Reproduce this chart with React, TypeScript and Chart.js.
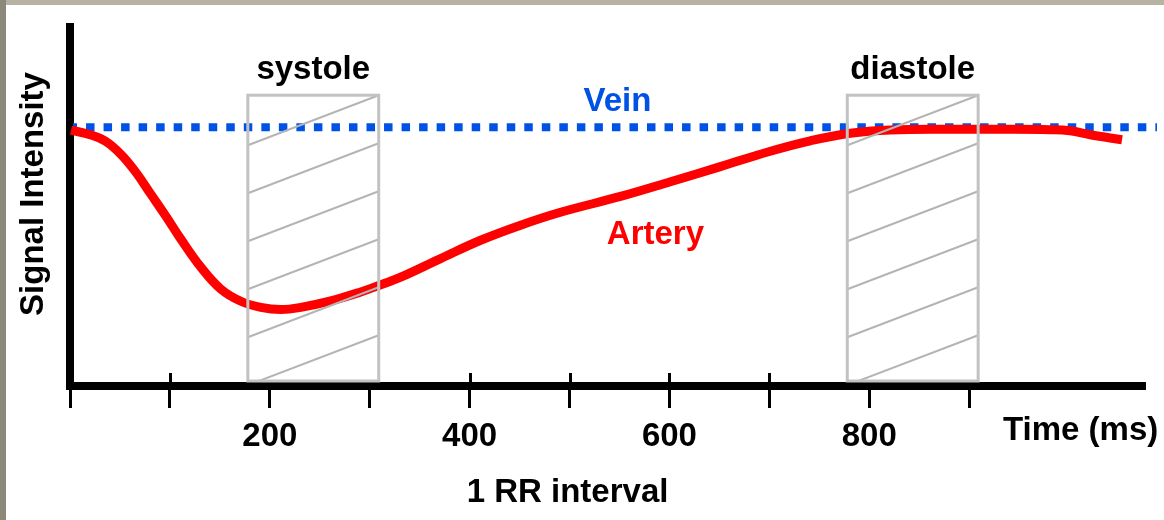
import { useEffect, useRef } from "react";
import { Chart, registerables } from "chart.js";

Chart.register(...registerables);

// ---- data (time in ms, signal intensity in arbitrary units 0-100) ----
const arteryTime = [1, 21, 36, 51, 66, 81, 96, 111, 131, 151, 171, 191, 211, 231, 261, 291, 311, 331, 371, 411, 451, 491, 551, 601, 651, 701, 741, 781, 821, 881, 931, 981, 1001, 1021, 1053];
const arterySignal = [71.3, 69.9, 68.1, 64.5, 59.5, 53.4, 47.3, 40.9, 33.1, 27.0, 23.6, 21.9, 21.3, 21.9, 23.7, 26.2, 28.2, 30.3, 35.5, 40.6, 44.8, 48.4, 52.8, 56.9, 61.1, 65.4, 68.3, 70.4, 71.3, 71.5, 71.5, 71.4, 71.1, 70.0, 68.6];
const veinTime = [3, 1088];
const veinSignal = [72.1, 72.1];
const xTickLabels = [200, 400, 600, 800];
const xTickLast = 900;
const windowLabels = ["systole", "diastole"];
const windowStart = [178, 778];
const windowEnd = [309, 909];
const windowTop = 81;
const seriesLabels = ["Artery", "Vein"];
const arteryLabelAt = [586, 39.6];
const veinLabelX = 548;

const FONT = '"Liberation Sans", Arial, Helvetica, sans-serif';
const BLUE = "#0052e6";
const RED = "#ff0000";

export default function App() {
  const ref = useRef<HTMLCanvasElement | null>(null);

  useEffect(() => {
    const canvas = ref.current;
    if (!canvas) return;

    const insideWindow = (v: number) =>
      windowStart.some((s, i) => v > s && v < windowEnd[i]);

    const decor = {
      id: "decor",
      beforeDatasetsDraw(chart: any) {
        const { ctx, scales } = chart;
        const xs = scales.x;
        const ys = scales.y;
        const y0 = ys.getPixelForValue(0);
        ctx.save();
        // upper part of tick marks
        ctx.strokeStyle = "#000";
        ctx.lineWidth = 3;
        for (let v = 100; v <= xTickLast; v += 100) {
          if (insideWindow(v)) continue;
          const px = Math.round(xs.getPixelForValue(v)) + 0.5;
          ctx.beginPath();
          ctx.moveTo(px, y0 - 13);
          ctx.lineTo(px, y0);
          ctx.stroke();
        }
        // white fill of windows
        ctx.fillStyle = "#fff";
        windowStart.forEach((s, i) => {
          const l = xs.getPixelForValue(s);
          const r = xs.getPixelForValue(windowEnd[i]);
          const t = ys.getPixelForValue(windowTop);
          ctx.fillRect(l, t, r - l, y0 - 5 - t);
        });
        ctx.restore();
      },
      afterDatasetsDraw(chart: any) {
        const { ctx, scales, chartArea } = chart;
        const xs = scales.x;
        const ys = scales.y;
        const y0 = ys.getPixelForValue(0) - 5;
        ctx.save();
        // hatched windows
        windowStart.forEach((s, i) => {
          const l = xs.getPixelForValue(s);
          const r = xs.getPixelForValue(windowEnd[i]);
          const t = ys.getPixelForValue(windowTop);
          ctx.save();
          ctx.beginPath();
          ctx.rect(l, t, r - l, y0 - t);
          ctx.clip();
          ctx.strokeStyle = "#b4b4b4";
          ctx.lineWidth = 2;
          const rise = 50;
          for (let k = 0; k < 8; k++) {
            const yr = t + k * 48;
            ctx.beginPath();
            ctx.moveTo(l, yr + rise);
            ctx.lineTo(r, yr);
            ctx.stroke();
          }
          ctx.restore();
          ctx.strokeStyle = "#c2c2c2";
          ctx.lineWidth = 3;
          ctx.strokeRect(l, t, r - l, y0 - t);
          // window label
          ctx.fillStyle = "#000";
          ctx.font = `bold 33px ${FONT}`;
          ctx.textAlign = "center";
          ctx.textBaseline = "alphabetic";
          ctx.fillText(windowLabels[i], (l + r) / 2, t - 16);
        });
        // series labels
        ctx.font = `bold 33px ${FONT}`;
        ctx.textAlign = "center";
        ctx.fillStyle = RED;
        ctx.fillText(seriesLabels[0], xs.getPixelForValue(arteryLabelAt[0]), ys.getPixelForValue(arteryLabelAt[1]));
        ctx.fillStyle = BLUE;
        ctx.fillText(seriesLabels[1], xs.getPixelForValue(veinLabelX), ys.getPixelForValue(veinSignal[0]) - 16);
        // axis titles
        ctx.fillStyle = "#000";
        ctx.textAlign = "left";
        ctx.fillText("Time (ms)", chartArea.right - 142, chartArea.bottom + 54);
        ctx.textAlign = "center";
        ctx.fillText("1 RR interval", xs.getPixelForValue(498), chartArea.bottom + 116);
        ctx.save();
        ctx.translate(chartArea.left - 27, 194);
        ctx.rotate(-Math.PI / 2);
        ctx.textAlign = "center";
        ctx.textBaseline = "alphabetic";
        ctx.fillText("Signal Intensity", 0, 0);
        ctx.restore();
        ctx.restore();
      },
    };

    const chart = new Chart(canvas, {
      type: "line",
      data: {
        datasets: [
          {
            label: seriesLabels[1],
            data: veinTime.map((t, i) => ({ x: t, y: veinSignal[i] })),
            borderColor: BLUE,
            borderWidth: 8,
            borderDash: [8.5, 9.03],
            borderDashOffset: 4.5,
            borderCapStyle: "butt",
            pointRadius: 0,
            clip: false as any,
            order: 2,
          },
          {
            label: seriesLabels[0],
            data: arteryTime.map((t, i) => ({ x: t, y: arterySignal[i] })),
            borderColor: RED,
            borderWidth: 9,
            tension: 0.4,
            pointRadius: 0,
            clip: false as any,
            order: 1,
          },
        ],
      },
      options: {
        responsive: false,
        animation: false,
        devicePixelRatio: 1,
        layout: { padding: { top: 27, right: 19, left: 0, bottom: 0 } },
        plugins: {
          legend: { display: false },
          tooltip: { enabled: false },
        },
        events: [],
        scales: {
          x: {
            type: "linear",
            min: 0,
            max: 1076,
            border: { display: true, width: 8, color: "#000" },
            grid: {
              display: true,
              drawOnChartArea: false,
              drawTicks: true,
              tickLength: 22,
              tickWidth: 3,
              tickColor: (c: any) => (c.tick && c.tick.value > xTickLast ? "rgba(0,0,0,0)" : "#000"),
              color: "#000",
            },
            ticks: {
              stepSize: 100,
              autoSkip: false,
              maxRotation: 0,
              includeBounds: false,
              padding: 9,
              color: "#000",
              font: { family: FONT, size: 33, weight: "bold" },
              callback: (v: any) => (xTickLabels.includes(Number(v)) ? String(v) : ""),
            },
            afterFit: (s: any) => {
              s.height = 134;
            },
          },
          y: {
            type: "linear",
            min: 0,
            max: 100,
            border: { display: true, width: 8, color: "#000" },
            grid: { display: false },
            ticks: { display: false },
            afterFit: (s: any) => {
              s.width = 70;
            },
          },
        },
      },
      plugins: [decor],
    } as any);

    return () => chart.destroy();
  }, []);

  return (
    <div style={{ position: "fixed", left: 0, top: 0, width: 1164, height: 520, background: "#fff", overflow: "hidden" }}>
      <div style={{ position: "absolute", left: 0, top: 0, width: 1164, height: 5, background: "#b7b2a2" }} />
      <div style={{ position: "absolute", left: 0, top: 0, width: 6, height: 520, background: "#8c897b" }} />
      <canvas ref={ref} width={1164} height={520} style={{ position: "absolute", left: 0, top: 0, width: 1164, height: 520 }} />
    </div>
  );
}
